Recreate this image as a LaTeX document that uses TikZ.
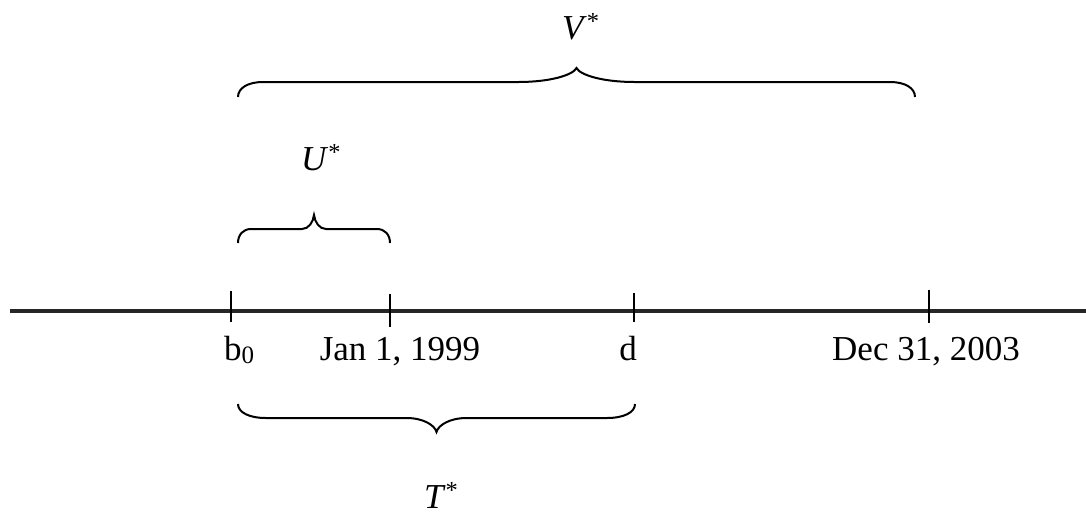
\documentclass[tikz,border=0pt]{standalone}
\usepackage{fontspec}
\setmainfont{Liberation Serif}
% curly brace: #1 x-left, #2 x-right, #3 y of ends, #4 offset of flat part, #5 offset of tip,
% #6 width of end curl, #7 width of tip curve, #8 direction (-1 up, 1 down)
\newcommand\curlybrace[8]{%
  \draw[bracepen] (#1,#3)
    .. controls (#1,{#3+#8*0.6*#4}) and ({#1+0.4*#6},{#3+#8*#4}) .. ({#1+#6},{#3+#8*#4})
    -- ({(#1+#2)/2-#7},{#3+#8*#4})
    .. controls ({(#1+#2)/2-0.45*#7},{#3+#8*#4}) and ({(#1+#2)/2-0.06*#7},{#3+#8*(#4+0.5*(#5-#4))}) .. ({(#1+#2)/2},{#3+#8*#5})
    .. controls ({(#1+#2)/2+0.06*#7},{#3+#8*(#4+0.5*(#5-#4))}) and ({(#1+#2)/2+0.45*#7},{#3+#8*#4}) .. ({(#1+#2)/2+#7},{#3+#8*#4})
    -- ({#2-#6},{#3+#8*#4})
    .. controls ({#2-0.4*#6},{#3+#8*#4}) and (#2,{#3+#8*0.6*#4}) .. (#2,#3);}
\begin{document}
\begin{tikzpicture}[x=1pt,y=-1pt,
  axis/.style={line width=4pt,black!85},
  tick/.style={line width=1.5pt},
  bracepen/.style={line width=2pt},
  lbl/.style={inner sep=0pt,anchor=base,font=\fontsize{35}{42}\selectfont},
  slbl/.style={inner sep=0pt,anchor=base west,font=\fontsize{35}{42}\selectfont}]
\useasboundingbox (0,0) rectangle (1086,517);
% axis
\coordinate (L) at (10,311);
\coordinate (R) at (1086,311);
\draw[axis] (L) -- (R);
% ticks
\coordinate (b0t) at (231,291); \coordinate (b0b) at (231,322);
\coordinate (j1t) at (390,294); \coordinate (j1b) at (390,327);
\coordinate (dt) at (634,293); \coordinate (db) at (634,322);
\coordinate (dct) at (929,290); \coordinate (dcb) at (929,323);
\draw[tick] (b0t) -- (b0b);
\draw[tick] (j1t) -- (j1b);
\draw[tick] (dt) -- (db);
\draw[tick] (dct) -- (dcb);
% labels
\node[lbl] (lb0) at (239,360) {b\raisebox{-0.2ex}{\fontsize{25}{25}\selectfont 0}};
\node[lbl] (ljan) at (400,360) {Jan 1, 1999};
\node[lbl] (ld) at (628,360) {d};
\node[lbl] (ldec) at (926,360) {Dec 31, 2003};
% braces
\curlybrace{238}{390}{243}{14}{28}{13}{12}{-1}
\curlybrace{238}{915}{97}{15}{29}{25}{58}{-1}
\curlybrace{238}{635}{404}{14}{28}{28}{30}{1}
% brace labels
\node[slbl] (lv) at (562,39) {\textit{V}\textsuperscript{*}};
\node[slbl] (lu) at (301,170) {\textit{U}\textsuperscript{*}};
\node[slbl] (lt) at (424,508) {\textit{T}\textsuperscript{*}};
\end{tikzpicture}
\end{document}
